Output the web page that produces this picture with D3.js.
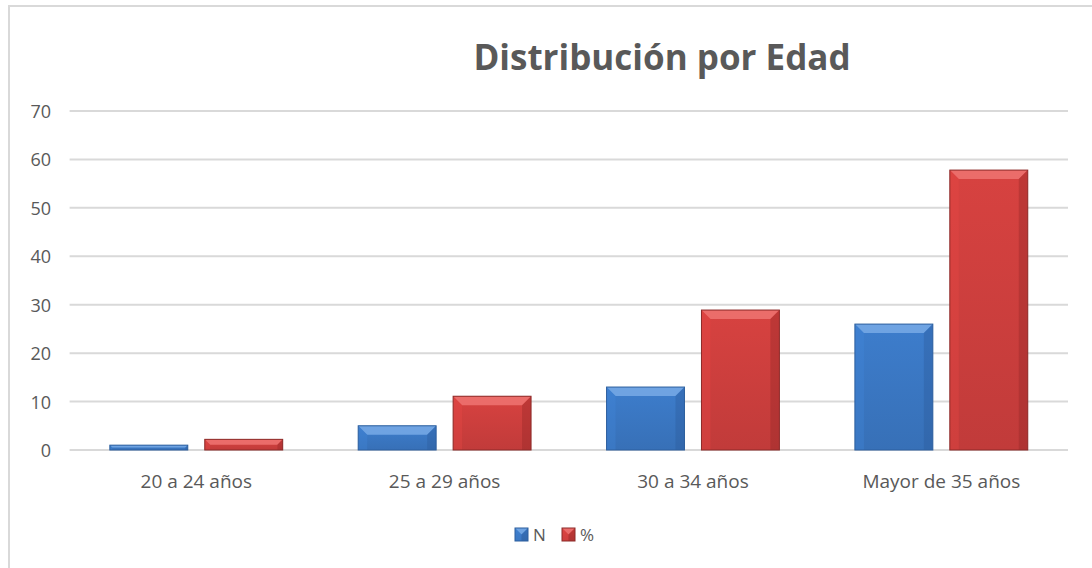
<!DOCTYPE html>
<html>
<head>
<meta charset="utf-8">
<script src="https://cdn.jsdelivr.net/npm/d3@7"></script>
<style>
  body { margin: 0; background: #fff; }
  text { font-family: "Open Sans", "Noto Sans", sans-serif; fill: #595959; }
</style>
</head>
<body>
<div id="chart"></div>
<script>
var categories = ["20 a 24 años", "25 a 29 años", "30 a 34 años", "Mayor de 35 años"]
var seriesNames = ["N", "%"]
var valuesN = [1, 5, 13, 26]
var valuesPct = [2.2, 11.1, 28.9, 57.8]
var yTicks = [0, 10, 20, 30, 40, 50, 60, 70]

var W = 1092, H = 568
var margin = { left: 71.6, right: 26, top: 111, bottom: 118 }
var bevel = 9

var svg = d3.select("#chart").append("svg")
  .attr("width", W)
  .attr("height", H)

// chart frame (only top and left edges visible)
svg.append("rect")
  .attr("x", 9).attr("y", 6)
  .attr("width", W + 20).attr("height", H + 20)
  .attr("fill", "none")
  .attr("stroke", "#d9d9d9")
  .attr("stroke-width", 2)

var colors = {
  "N": { base: "#3d7dcc", light: "#78aae6", dark: "#2b5a98", edge: "#2d5f9e" },
  "%": { base: "#d74240", light: "#ee7472", dark: "#8e2624", edge: "#8c2a28" }
}

var defs = svg.append("defs")
seriesNames.forEach(function (s, i) {
  var c = colors[s]
  var g = defs.append("linearGradient")
    .attr("id", "grad" + i)
    .attr("x1", 0).attr("y1", 0).attr("x2", 0).attr("y2", 1)
  g.append("stop").attr("offset", "0%").attr("stop-color", c.base)
  g.append("stop").attr("offset", "100%").attr("stop-color", d3.color(c.base).darker(0.3))
})

var x0 = d3.scaleBand()
  .domain(categories)
  .range([margin.left, W - margin.right])
  .paddingInner(0.304)
  .paddingOuter(0.154)

var x1 = d3.scaleBand()
  .domain(seriesNames)
  .range([0, x0.bandwidth()])
  .paddingInner(0.179)

var y = d3.scaleLinear()
  .domain([0, 70])
  .range([H - margin.bottom, margin.top])

// gridlines
svg.append("g")
  .selectAll("line")
  .data(yTicks)
  .join("line")
    .attr("x1", margin.left - 2)
    .attr("x2", W - margin.right + 2)
    .attr("y1", function (d) { return y(d) })
    .attr("y2", function (d) { return y(d) })
    .attr("stroke", "#d9d9d9")
    .attr("stroke-width", 2)

// y axis labels
var yAxis = d3.axisLeft(y).tickValues(yTicks).tickSize(0).tickPadding(0)
var yG = svg.append("g")
  .attr("transform", "translate(51,0)")
  .call(yAxis)
yG.select(".domain").remove()
yG.selectAll("text")
  .style("font-size", "18px")
  .attr("fill", "#595959")
  .attr("dy", "0.36em")

// x axis labels
var xAxis = d3.axisBottom(x0).tickSize(0).tickPadding(0)
var xG = svg.append("g")
  .attr("transform", "translate(0,488)")
  .call(xAxis)
xG.select(".domain").remove()
xG.selectAll("text")
  .style("font-size", "19px")
  .attr("fill", "#595959")
  .attr("y", 0)
  .attr("dy", 0)

var rows = categories.map(function (c, i) {
  return { cat: c, vals: [valuesN[i], valuesPct[i]] }
})

function drawBar(g, bx, by, bw, bh, s, i) {
  var c = colors[s]
  var b = Math.min(bevel, bh / 2, bw / 2)
  g.append("rect")
    .attr("x", bx).attr("y", by)
    .attr("width", bw).attr("height", bh)
    .attr("fill", "url(#grad" + i + ")")
  // top bevel
  g.append("polygon")
    .attr("points", [[bx, by], [bx + bw, by], [bx + bw - b, by + b], [bx + b, by + b]].join(" "))
    .attr("fill", c.light).attr("opacity", 0.85)
  // left bevel
  g.append("polygon")
    .attr("points", [[bx, by], [bx + b, by + b], [bx + b, by + bh], [bx, by + bh]].join(" "))
    .attr("fill", d3.color(c.base).brighter(0.2)).attr("opacity", 0.35)
  // right bevel
  g.append("polygon")
    .attr("points", [[bx + bw, by], [bx + bw - b, by + b], [bx + bw - b, by + bh], [bx + bw, by + bh]].join(" "))
    .attr("fill", c.dark).attr("opacity", 0.35)
  g.append("rect")
    .attr("x", bx).attr("y", by)
    .attr("width", bw).attr("height", bh)
    .attr("fill", "none")
    .attr("stroke", c.edge)
    .attr("stroke-width", 1)
}

var barsG = svg.append("g")
rows.forEach(function (r) {
  seriesNames.forEach(function (s, i) {
    var bx = x0(r.cat) + x1(s)
    var by = y(r.vals[i])
    drawBar(barsG, bx, by, x1.bandwidth(), y(0) - by, s, i)
  })
})

// title
svg.append("text")
  .attr("x", 662)
  .attr("y", 70)
  .attr("text-anchor", "middle")
  .style("font-size", "35px")
  .style("font-weight", "bold")
  .text("Distribución por Edad")

// legend
var legend = svg.append("g").attr("transform", "translate(515,528)")
var legendX = [0, 47]
seriesNames.forEach(function (s, i) {
  var lg = legend.append("g").attr("transform", "translate(" + legendX[i] + ",0)")
  drawBar(lg, 0, 0, 13, 13, s, i)
  lg.append("text")
    .attr("x", 18).attr("y", 7)
    .attr("dy", "0.36em")
    .style("font-size", "17px")
    .text(s)
})
</script>
</body>
</html>
